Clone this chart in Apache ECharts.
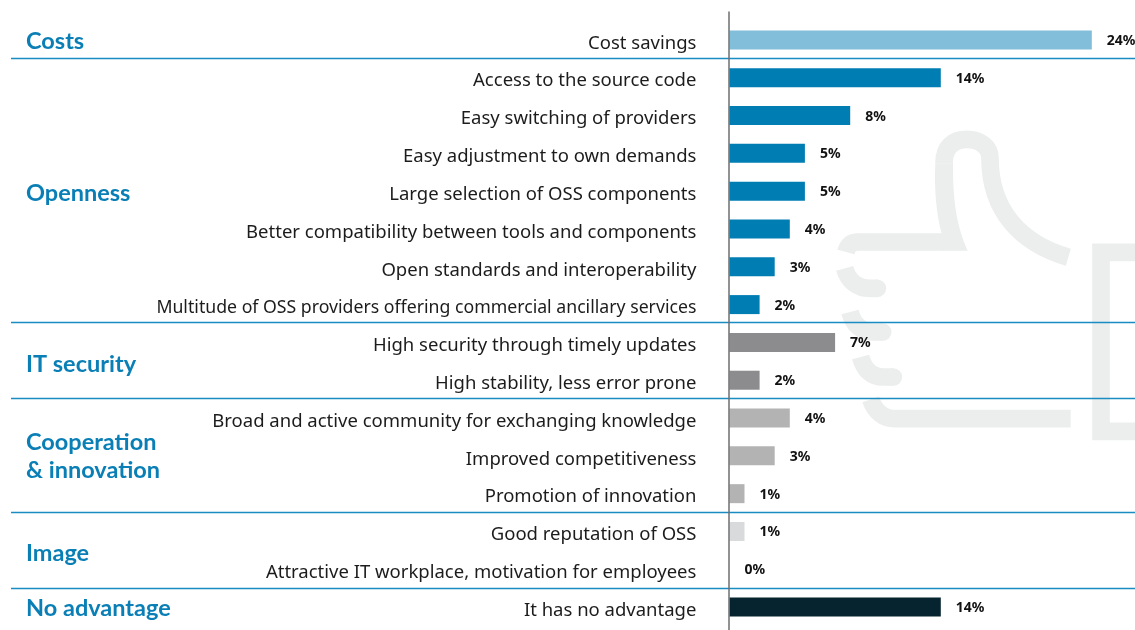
<!DOCTYPE html>
<html><head><meta charset="utf-8">
<style>html,body{margin:0;padding:0;background:#fff}#c{width:1135px;height:630px}</style>
<script src="https://cdn.jsdelivr.net/npm/echarts@6/dist/echarts.min.js"></script>
</head><body><div id="c"></div>
<script>
const categories = ["Cost savings","Access to the source code","Easy switching of providers","Easy adjustment to own demands","Large selection of OSS components","Better compatibility between tools and components","Open standards and interoperability","Multitude of OSS providers offering commercial ancillary services","High security through timely updates","High stability, less error prone","Broad and active community for exchanging knowledge","Improved competitiveness","Promotion of innovation","Good reputation of OSS","Attractive IT workplace, motivation for employees","It has no advantage"];
const values = [24,14,8,5,5,4,3,2,7,2,4,3,1,1,0,14];
const barColors = ["#82bdd9","#007db3","#007db3","#007db3","#007db3","#007db3","#007db3","#007db3","#8c8c8e","#8c8c8e","#b3b3b4","#b3b3b4","#b3b3b4","#d9dadb","#d9dadb","#06242f"];
const groupLabels = [["Costs",41.5],["Openness",193],["IT security",364],["Cooperation",442],["& innovation",470],["Image",553],["No advantage",608.5]];
const separators = [58.5,322.5,398.5,512.5,588.5];
const narrowLabel = categories[7];

const thumbStrokes = [
 "M805 412C660 370 570 270 570 115C570 80 540 58 500 58C460 58 432 80 432 130",
 "M432 366L175 366C150 366 142 380 138 396",
 "M134 445C145 485 175 505 210 505L232 505",
 "M150 576C160 615 185 636 220 636L248 636",
 "M182 711C192 750 215 771 250 771L280 771",
 "M212 838C225 875 250 896 285 896L812 896",
 "M1010 397L903 397L903 934L1010 934"
];
const thumbFill = "M406 130C402 210 410 290 425 340L425 392L503 392C470 320 458 240 459 130Z";
const thumbDots = [[232,505],[248,636],[280,771]];
const wm = "#eceded", C = "#0a7fb6";

const g = [];
thumbStrokes.forEach((d,i) => {
  const name = 'thumbStroke' + i;
  echarts.graphic.registerShape(name, echarts.graphic.extendPath(d, {}));
  g.push({type:name,x:800,y:120,scaleX:1/3,scaleY:1/3,z:-10,silent:true,
    style:{fill:null,stroke:wm,lineWidth:53}});
});
echarts.graphic.registerShape('thumbFill', echarts.graphic.extendPath(thumbFill, {}));
g.push({type:'thumbFill',x:800,y:120,scaleX:1/3,scaleY:1/3,z:-10,silent:true,style:{fill:wm}});
thumbDots.forEach(p => g.push({type:'circle',x:800,y:120,scaleX:1/3,scaleY:1/3,z:-10,silent:true,
  shape:{cx:p[0],cy:p[1],r:26.5},style:{fill:wm}}));
separators.forEach(y => g.push({type:'line',z:5,silent:true,shape:{x1:11,y1:y,x2:1135,y2:y},style:{stroke:"#1a8cc2",lineWidth:1.3}}));
g.push({type:'line',z:6,silent:true,shape:{x1:729,y1:11.5,x2:729,y2:630},style:{stroke:"#6d6e70",lineWidth:1.5}});
groupLabels.forEach(l => g.push({type:'text',z:6,silent:true,x:26,y:l[1],style:{text:l[0],fill:C,font:'bold 23.5px Lato',textVerticalAlign:'middle'}}));

const chart = echarts.init(document.getElementById('c'),null,{renderer:'canvas'});
chart.setOption({
  animation:false,
  backgroundColor:'#fff',
  grid:{left:729.4,top:21,width:392.6,height:605},
  xAxis:{type:'value',min:0,max:26,show:false},
  yAxis:{type:'category',inverse:true,data:categories,
    axisLine:{show:false},axisTick:{show:false},
    axisLabel:{margin:33,fontFamily:'Noto Sans',fontSize:18.5,color:'#222',
      formatter:v => v === narrowLabel ? '{n|' + v + '}' : '{m|' + v + '}',
      rich:{m:{fontFamily:'Noto Sans',fontSize:18.5,color:'#1c1c1c',padding:[7,0,0,0]},
            n:{fontFamily:'Noto Sans',fontSize:17.7,color:'#1c1c1c',padding:[7,0,0,0]}}}},
  series:[{type:'bar',barWidth:19,z:3,
    data:values.map((v,i)=>({value:v,itemStyle:{color:barColors[i]}})),
    label:{show:true,position:'right',distance:15,offset:[0,1],formatter:'{c}%',fontFamily:'Noto Sans',fontWeight:'bold',fontSize:14,color:'#111'}}],
  graphic:g
});
</script></body></html>
